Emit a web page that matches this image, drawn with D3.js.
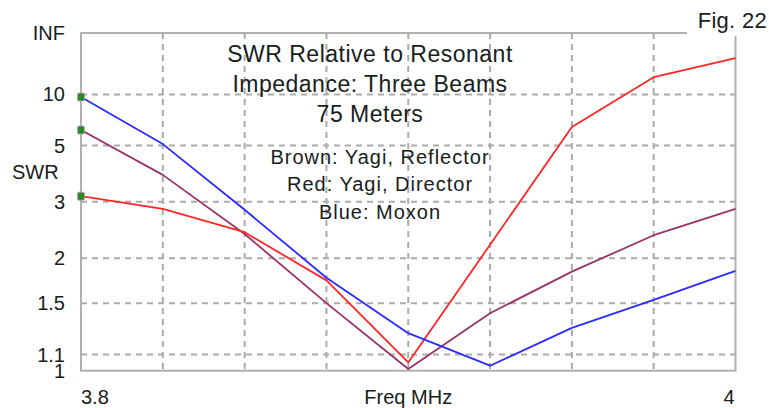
<!DOCTYPE html>
<html>
<head>
<meta charset="utf-8">
<script src="https://cdn.jsdelivr.net/npm/d3@7"></script>
<style>
  body { margin: 0; background: #fff; }
  text { font-family: "Liberation Sans", Arial, sans-serif; fill: #18201c; }
</style>
</head>
<body>
<div id="okvir"></div>
<script>
// podaci
const frekvencije = [3.8, 3.825, 3.85, 3.875, 3.9, 3.925, 3.95, 3.975, 4.0]
const smedaSwr = [5.96, 3.76, 2.36, 1.50, 1.01, 1.41, 1.83, 2.34, 2.84]
const crvenaSwr = [3.14, 2.84, 2.39, 1.73, 1.05, 2.19, 6.19, 14.3, 26.0]
const plavaSwr = [9.55, 5.08, 2.82, 1.76, 1.25, 1.03, 1.29, 1.53, 1.84]

const yTickVrijednosti = [1, 1.1, 1.5, 2, 3, 5, 10, Infinity]
const yTickOznake = ["1", "1.1", "1.5", "2", "3", "5", "10", "INF"]
const xTickVrijednosti = [3.8, 3.825, 3.85, 3.875, 3.9, 3.925, 3.95, 3.975, 4.0]

const naslov = ["SWR Relative to Resonant", "Impedance: Three Beams", "75 Meters"]
const legenda = ["Brown: Yagi, Reflector", "Red: Yagi, Director", "Blue: Moxon"]

const serije = [
  { ime: "smeda", boja: "#993366", vrijednosti: smedaSwr },
  { ime: "crvena", boja: "#ff2626", vrijednosti: crvenaSwr },
  { ime: "plava", boja: "#2a2aff", vrijednosti: plavaSwr },
]

// dimenzije
const dimenzije = {
  sirina: 769,
  visina: 408,
  margine: { top: 33, right: 33.5, bottom: 37.3, left: 81 },
}
dimenzije.grSirina = dimenzije.sirina - dimenzije.margine.left - dimenzije.margine.right
dimenzije.grVisina = dimenzije.visina - dimenzije.margine.top - dimenzije.margine.bottom

const okvir = d3.select("#okvir")
  .append("svg")
    .attr("width", dimenzije.sirina)
    .attr("height", dimenzije.visina)

const granice = okvir.append("g")
    .attr("transform", `translate(${dimenzije.margine.left},${dimenzije.margine.top})`)

// SWR -> koeficijent refleksije
const rho = s => s === Infinity ? 1 : (s - 1) / (s + 1)

const xSkala = d3.scaleLinear()
  .domain([3.8, 4.0])
  .range([0, dimenzije.grSirina])

const ySkala = d3.scaleLinear()
  .domain([0, 1])
  .range([dimenzije.grVisina, 0])

const y = s => ySkala(rho(s))

// mreza
const siva = "#ababab"
granice.append("g").selectAll("line")
  .data(yTickVrijednosti.slice(1, -1))
  .join("line")
    .attr("x1", 0)
    .attr("x2", dimenzije.grSirina)
    .attr("y1", d => y(d))
    .attr("y2", d => y(d))
    .attr("stroke", siva)
    .attr("stroke-width", 2)
    .attr("stroke-dasharray", "6,5")

granice.append("g").selectAll("line")
  .data(xTickVrijednosti.slice(1, -1))
  .join("line")
    .attr("x1", d => xSkala(d))
    .attr("x2", d => xSkala(d))
    .attr("y1", 0)
    .attr("y2", dimenzije.grVisina)
    .attr("stroke", siva)
    .attr("stroke-width", 2)
    .attr("stroke-dasharray", "6,5")

// okvir grafa
granice.append("rect")
    .attr("width", dimenzije.grSirina)
    .attr("height", dimenzije.grVisina)
    .attr("fill", "none")
    .attr("stroke", "#b0b0b0")
    .attr("stroke-width", 2)

// linije
const generatorLinije = d3.line()
  .x((d, i) => xSkala(frekvencije[i]))
  .y(d => y(d))

granice.append("g").selectAll("path")
  .data(serije)
  .join("path")
    .attr("d", d => generatorLinije(d.vrijednosti))
    .attr("fill", "none")
    .attr("stroke", d => d.boja)
    .attr("stroke-width", 1.8)
    .attr("stroke-linejoin", "round")

// markeri na lijevom rubu
granice.append("g").selectAll("rect")
  .data(serije)
  .join("rect")
    .attr("x", xSkala(frekvencije[0]) - 3.5)
    .attr("y", d => y(d.vrijednosti[0]) - 4)
    .attr("width", 7)
    .attr("height", 8)
    .attr("rx", 1.5)
    .attr("fill", "#1f8f1f")
    .attr("stroke", "#d08ad0")
    .attr("stroke-width", 0.8)

// y os
const yOs = granice.append("g")
yOs.selectAll("text")
  .data(yTickVrijednosti)
  .join("text")
    .attr("x", -16)
    .attr("y", d => y(d))
    .attr("dy", "0.35em")
    .attr("text-anchor", "end")
    .style("font-size", "20px")
    .text((d, i) => yTickOznake[i])

okvir.append("text")
    .attr("x", 12)
    .attr("y", 179)
    .style("font-size", "20px")
    .text("SWR")

// x os
okvir.append("text")
    .attr("x", dimenzije.margine.left + xSkala(3.8))
    .attr("y", 404)
    .style("font-size", "20px")
    .text("3.8")

okvir.append("text")
    .attr("x", dimenzije.margine.left + xSkala(4.0) - 1)
    .attr("y", 404)
    .attr("text-anchor", "end")
    .style("font-size", "20px")
    .text("4")

okvir.append("text")
    .attr("x", dimenzije.margine.left + dimenzije.grSirina / 2)
    .attr("y", 404)
    .attr("text-anchor", "middle")
    .style("font-size", "20px")
    .text("Freq MHz")

// naslov i legenda
okvir.append("g").selectAll("text")
  .data(naslov)
  .join("text")
    .attr("x", 370)
    .attr("y", (d, i) => 61.5 + i * 30)
    .attr("text-anchor", "middle")
    .style("font-size", "23px")
    .style("letter-spacing", "0.5px")
    .text(d => d)

okvir.append("g").selectAll("text")
  .data(legenda)
  .join("text")
    .attr("x", 380)
    .attr("y", (d, i) => 163.5 + i * 27.8)
    .attr("text-anchor", "middle")
    .style("font-size", "20px")
    .style("letter-spacing", "1px")
    .text(d => d)

// Fig. 22
okvir.append("rect")
    .attr("x", 687)
    .attr("y", 0)
    .attr("width", 82)
    .attr("height", 36)
    .attr("fill", "#fff")

okvir.append("text")
    .attr("x", 767)
    .attr("y", 27.5)
    .attr("text-anchor", "end")
    .style("font-size", "22px")
    .style("letter-spacing", "0.3px")
    .text("Fig. 22")
</script>
</body>
</html>
